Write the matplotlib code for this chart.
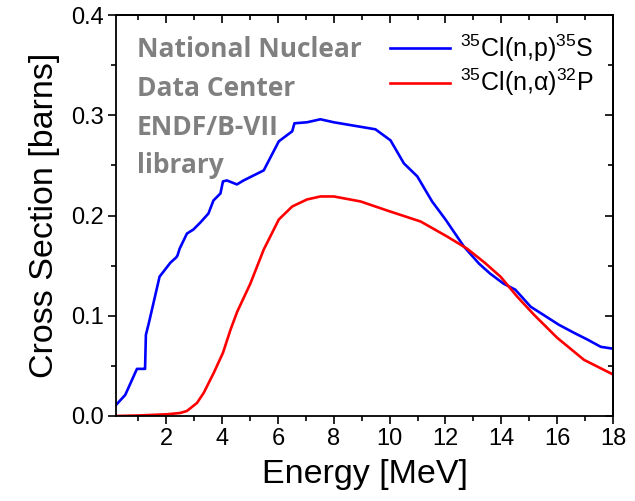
import matplotlib
matplotlib.use("Agg")
import matplotlib.pyplot as plt
from matplotlib.ticker import MultipleLocator

# Data (Energy [MeV], Cross section [barns])
np_energy = [0.2, 0.53, 0.95, 1.21, 1.24, 1.27, 1.37, 1.76, 2.15, 2.35, 2.40, 2.48, 2.74, 2.97,
             3.22, 3.51, 3.69, 3.94, 4.03, 4.17, 4.53, 4.77, 5.13, 5.49, 6.03, 6.51, 6.59,
             7.04, 7.52, 8.0, 9.49, 10.03, 10.51, 10.99, 11.52, 12.0, 12.66, 13.2, 13.6,
             14.08, 14.5, 15.05, 15.5, 16.06, 16.6, 17.1, 17.56, 18.03]
np_sigma = [0.011, 0.021, 0.047, 0.047, 0.047, 0.081, 0.092, 0.139, 0.153, 0.158, 0.160, 0.167,
            0.182, 0.186, 0.193, 0.202, 0.215, 0.222, 0.234, 0.235, 0.231, 0.235, 0.240,
            0.245, 0.274, 0.284, 0.292, 0.293, 0.296, 0.293, 0.286, 0.275, 0.252, 0.239,
            0.214, 0.196, 0.169, 0.152, 0.142, 0.132, 0.126, 0.109, 0.101, 0.091, 0.083,
            0.076, 0.069, 0.067]

na_energy = [0.2, 1.0, 2.03, 2.5, 2.74, 3.1, 3.34, 3.7, 4.03, 4.3, 4.54, 5.01, 5.49, 6.03,
             6.51, 7.04, 7.52, 8.0, 8.96, 9.91, 11.11, 12.06, 12.77, 13.4, 13.97, 14.57,
             15.17, 16.0, 16.96, 18.03]
na_sigma = [0.0, 0.0005, 0.0017, 0.003, 0.005, 0.013, 0.023, 0.043, 0.063, 0.086, 0.104,
            0.132, 0.166, 0.196, 0.209, 0.216, 0.219, 0.219, 0.214, 0.205, 0.194, 0.179,
            0.167, 0.153, 0.139, 0.119, 0.101, 0.078, 0.056, 0.041]

label_np = r"$^{35}$Cl(n,p)$^{35}$S"
label_na = r"$^{35}$Cl(n,α)$^{32}$P"
note_lines = ["National Nuclear", "Data Center", "ENDF/B-VII", "library"]
x_ticks = [2, 4, 6, 8, 10, 12, 14, 16, 18]

plt.rcParams['font.family'] = ['Liberation Sans', 'DejaVu Sans']
plt.rcParams['mathtext.fontset'] = 'custom'
plt.rcParams['mathtext.rm'] = 'Liberation Sans'
plt.rcParams['mathtext.it'] = 'Liberation Sans:italic'

fig = plt.figure(figsize=(6.35, 5.01), dpi=100)
ax = fig.add_axes([0.1827, 0.1697, 0.9654 - 0.1827, 0.970 - 0.1697])

ax.plot(np_energy, np_sigma, color='#0000ff', lw=1.9, label=label_np)
ax.plot(na_energy, na_sigma, color='#ff0000', lw=1.9, label=label_na)

ax.set_xlim(0.2, 18)
ax.set_ylim(0, 0.4)
ax.set_xticks(x_ticks)
ax.xaxis.set_minor_locator(MultipleLocator(1))
ax.yaxis.set_major_locator(MultipleLocator(0.1))
ax.yaxis.set_minor_locator(MultipleLocator(0.05))
ax.yaxis.set_major_formatter(plt.FuncFormatter(lambda v, p: f"{v:.1f}"))

for s in ax.spines.values():
    s.set_linewidth(1.3)
ax.tick_params(which='major', direction='out', length=6, width=1.2, labelsize=17, pad=3)
ax.tick_params(which='minor', direction='out', length=3.5, width=1.2)

secx = ax.secondary_xaxis('top')
secx.set_xticks(x_ticks)
secx.xaxis.set_minor_locator(MultipleLocator(1))
secx.tick_params(which='major', direction='in', length=6, width=1.2, labeltop=False)
secx.tick_params(which='minor', direction='in', length=3.5, width=1.2)
secx.spines['top'].set_linewidth(1.3)
secy = ax.secondary_yaxis('right')
secy.yaxis.set_major_locator(MultipleLocator(0.1))
secy.yaxis.set_minor_locator(MultipleLocator(0.05))
secy.tick_params(which='major', direction='in', length=6, width=1.2, labelright=False)
secy.tick_params(which='minor', direction='in', length=3.5, width=1.2)
secy.spines['right'].set_linewidth(1.3)

ax.set_xlabel("Energy [MeV]", fontsize=24.5, labelpad=6)
ax.set_ylabel("Cross Section [barns]", fontsize=24.5, labelpad=8)

leg = ax.legend(loc='upper right', frameon=False, fontsize=18, handlelength=2.4,
                handletextpad=0.4, labelspacing=0.12, borderaxespad=0.3,
                bbox_to_anchor=(0.996, 1.0))

ybase = 0.896
for i, t in enumerate(note_lines):
    ax.text(0.042, ybase - i * 0.097, t, transform=ax.transAxes, fontsize=19,
            fontweight='bold', color='#808080', family=['Open Sans', 'DejaVu Sans'],
            va='baseline', ha='left')

fig.savefig("out.png", dpi=100)
